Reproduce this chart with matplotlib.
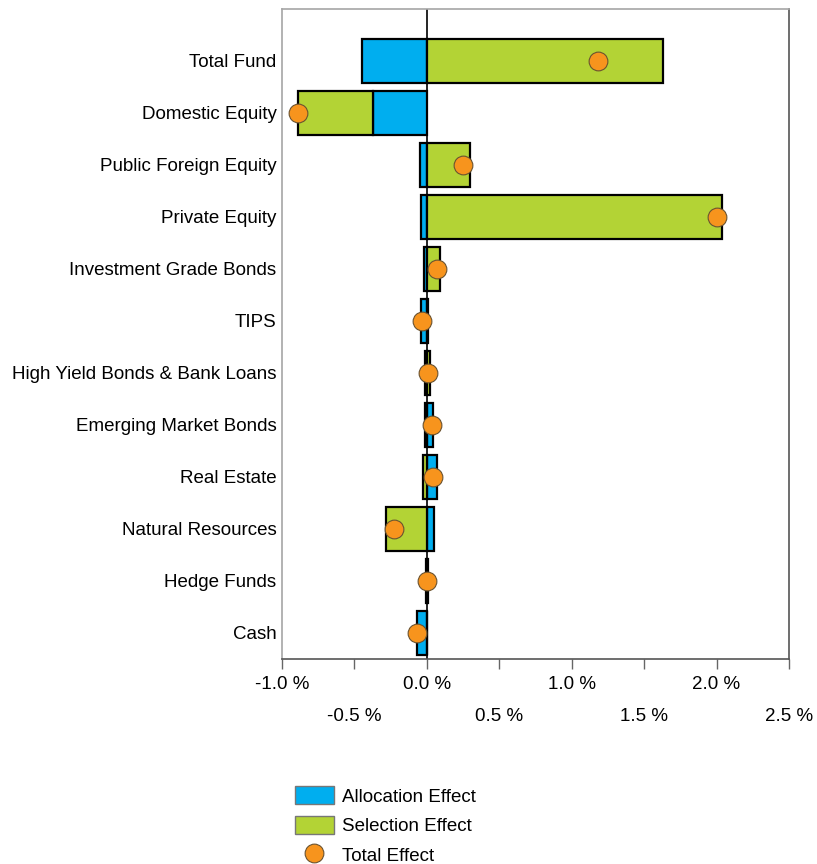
import numpy as np
import matplotlib.pyplot as plt
from matplotlib.patches import Patch
from matplotlib.lines import Line2D

plt.rcParams["font.family"] = ["Liberation Sans", "DejaVu Sans"]

categories = [
    "Total Fund", "Domestic Equity", "Public Foreign Equity", "Private Equity",
    "Investment Grade Bonds", "TIPS", "High Yield Bonds & Bank Loans",
    "Emerging Market Bonds", "Real Estate", "Natural Resources",
    "Hedge Funds", "Cash",
]
allocation = [-0.45, -0.37, -0.05, -0.04, -0.02, -0.04, -0.015, 0.045, 0.07, 0.05, 0.005, -0.07]
selection = [1.63, -0.52, 0.30, 2.04, 0.09, 0.005, 0.02, -0.01, -0.025, -0.28, -0.005, 0.002]
total = [1.18, -0.89, 0.25, 2.00, 0.07, -0.035, 0.005, 0.035, 0.045, -0.23, 0.0, -0.07]

major_ticks = [-1.0, 0.0, 1.0, 2.0]
minor_ticks = [-0.5, 0.5, 1.5, 2.5]

BLUE = "#00AEEF"
GREEN = "#B3D335"
ORANGE = "#F7941D"
FS = 13.5

alloc = np.array(allocation)
sel = np.array(selection)
# selection stacks onto allocation when both point the same way, else starts at zero
sel_left = np.where(np.sign(alloc) == np.sign(sel), alloc, 0.0)

y = np.arange(len(categories))[::-1]

fig = plt.figure(figsize=(8.17, 8.64), dpi=100)
ax = fig.add_axes([0.3452, 0.2373, 0.6205, 0.7523])

ax.axvline(0, color="black", lw=1.2, zorder=1)
ax.barh(y, alloc, height=0.84, color=BLUE, edgecolor="black", linewidth=1.6, zorder=2)
ax.barh(y, sel, left=sel_left, height=0.84, color=GREEN, edgecolor="black", linewidth=1.6, zorder=2)
ax.plot(total, y, "o", ms=13.5, color=ORANGE, mec="#6b5330", mew=0.8, zorder=4)

ax.set_xlim(-1.0, 2.5)
ax.set_ylim(-0.5, 12)
ax.set_yticks(y)
ax.set_yticklabels(categories, fontsize=FS)
ax.tick_params(axis="y", length=0, pad=4)

ax.set_xticks(major_ticks)
ax.set_xticklabels([f"{v:.1f} %" for v in major_ticks])
ax.set_xticks(minor_ticks, minor=True)
ax.set_xticklabels([f"{v:.1f} %" for v in minor_ticks], minor=True)
ax.tick_params(axis="x", which="both", length=7.2, width=1, color="#666666",
               labelsize=FS, direction="out")
ax.tick_params(axis="x", which="major", pad=5)
ax.tick_params(axis="x", which="minor", pad=28)

for side in ("top", "left"):
    ax.spines[side].set_color("#a6a6a6")
for side in ("right", "bottom"):
    ax.spines[side].set_color("#555555")
for s in ax.spines.values():
    s.set_linewidth(1.2)

handles = [
    Patch(facecolor=BLUE, edgecolor="#777777", label="Allocation Effect"),
    Patch(facecolor=GREEN, edgecolor="#777777", label="Selection Effect"),
    Line2D([], [], marker="o", ls="", ms=13.5, color=ORANGE, mec="#6b5330",
           mew=0.8, label="Total Effect"),
]
fig.legend(handles=handles, loc="upper left", bbox_to_anchor=(0.352, 0.0985),
           frameon=False, fontsize=FS, handlelength=2.05, handleheight=1.07,
           handletextpad=0.45, labelspacing=0.55, borderaxespad=0)

fig.savefig("out.png", dpi=100)
